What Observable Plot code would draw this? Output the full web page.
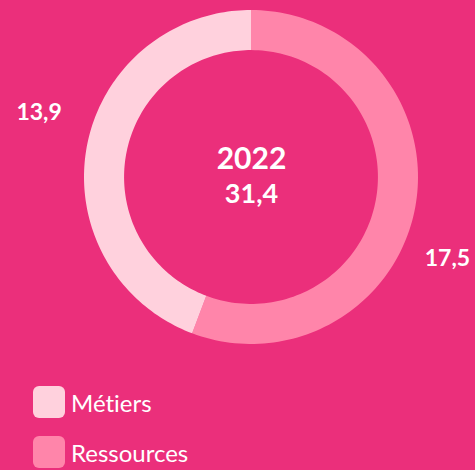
<!DOCTYPE html>
<html>
<head>
<meta charset="utf-8">
<script src="https://cdn.jsdelivr.net/npm/d3@7"></script>
<script src="https://cdn.jsdelivr.net/npm/@observablehq/plot@0.6"></script>
<style>
  html, body { margin: 0; padding: 0; background: #EB2F7B; width: 475px; height: 470px; overflow: hidden; }
  #chart svg { display: block; }
  .legend { position: absolute; left: 33px; top: 386px; font-family: Lato, sans-serif; color: #fff; font-size: 24px; font-variant-ligatures: none; }
  .item { display: flex; align-items: center; height: 32px; margin-bottom: 18px; }
  .sw { width: 32px; height: 32px; border-radius: 6px; margin-right: 6px; }
</style>
</head>
<body>
<div id="chart"></div>
<div class="legend" id="legend"></div>
<script>
const categories = ["Ressources", "Métiers"];
const values = [17.5, 13.9];
const valueLabels = ["17,5", "13,9"];
const year = "2022";
const totalLabel = "31,4";
const colors = ["#FF85AA", "#FFD1DD"];

const W = 475, H = 372;
const cx = 251, cy = 177, R = 167;
const inner = 0.76;

const pie = d3.pie().sort(null).value(d => d.value);
const arcs = pie(categories.map((c, i) => ({category: c, value: values[i], label: valueLabels[i]})));

// sample arc points in data coordinates (unit circle)
const ringPts = [];
for (const a of arcs) {
  const n = 120;
  for (let k = 0; k <= n; k++) {
    const t = a.startAngle + (a.endAngle - a.startAngle) * k / n;
    ringPts.push({
      category: a.data.category,
      x1: Math.sin(t), y1: Math.cos(t),
      x2: inner * Math.sin(t), y2: inner * Math.cos(t)
    });
  }
}

// label placement (angle & radius factor, layout only)
const labelAngle = {"Ressources": 112.5 * Math.PI / 180, "Métiers": 287 * Math.PI / 180};
const labelRad = {"Ressources": 1.27, "Métiers": 1.33};
const labelPts = arcs.map(a => ({
  label: a.data.label,
  x: labelRad[a.data.category] * Math.sin(labelAngle[a.data.category]),
  y: labelRad[a.data.category] * Math.cos(labelAngle[a.data.category])
}));

const chart = Plot.plot({
  width: W, height: H,
  margin: 0,
  style: {background: "transparent", fontFamily: "Lato, sans-serif"},
  x: {domain: [-1, 1], range: [cx - R, cx + R], axis: null},
  y: {domain: [-1, 1], range: [cy + R, cy - R], axis: null},
  color: {domain: categories, range: colors},
  marks: [
    Plot.area(ringPts, {x1: "x1", y1: "y1", x2: "x2", y2: "y2", fill: "category", z: "category", curve: "linear"}),
    Plot.text([year], {x: 0, y: 0.11, text: d => d, fill: "white", fontSize: 30, fontWeight: "bold"}),
    Plot.text([totalLabel], {x: 0, y: -0.10, text: d => d, fill: "white", fontSize: 27, fontWeight: "bold"}),
    Plot.text(labelPts, {x: "x", y: "y", text: "label", fill: "white", fontSize: 23, fontWeight: "bold"})
  ]
});
document.getElementById("chart").appendChild(chart);

const legendOrder = ["Métiers", "Ressources"];
const lg = document.getElementById("legend");
for (const c of legendOrder) {
  const it = document.createElement("div");
  it.className = "item";
  const sw = document.createElement("div");
  sw.className = "sw";
  sw.style.background = colors[categories.indexOf(c)];
  const tx = document.createElement("span");
  tx.textContent = c;
  it.appendChild(sw); it.appendChild(tx);
  lg.appendChild(it);
}
</script>
</body>
</html>
